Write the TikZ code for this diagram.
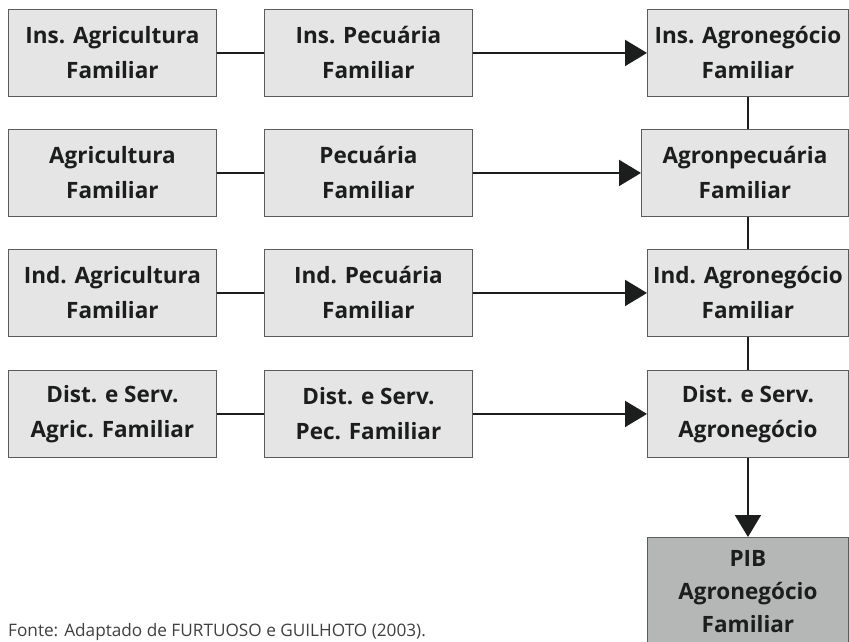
\documentclass[tikz,border=0pt]{standalone}
\usepackage{fontspec}
\setmainfont{Open Sans}
\usepackage{xcolor}
\usetikzlibrary{arrows.meta,positioning}
\definecolor{boxfill}{HTML}{E4E5E4}
\definecolor{pibfill}{HTML}{B5B7B6}
\definecolor{boxline}{HTML}{5A5C5B}
\definecolor{ink}{HTML}{1C1E1D}

\begin{document}
\begin{tikzpicture}[
  node distance=32pt and 47pt,
  box/.style={draw=boxline, line width=0.9pt, fill=boxfill, anchor=north west,
    align=center, minimum width=208pt, minimum height=87pt, inner sep=2pt,
    text=ink, font=\fontsize{22.5}{35}\selectfont\bfseries},
  link/.style={line width=2pt, draw=ink},
  arr/.style={link, -{Triangle[length=22pt, width=26pt]}}
]
\useasboundingbox (0,0) rectangle (849pt,-642pt);
% row 1
\node[box] (insagr) at (8pt,-9pt) {Ins. Agricultura\\Familiar};
\node[box] (inspec) at (264pt,-9pt) {Ins. Pecuária\\Familiar};
\node[box, minimum width=201pt] (insneg) at (647pt,-9pt) {Ins. Agronegócio\\Familiar};
% row 2
\node[box] (agr) at (8pt,-129pt) {Agricultura\\Familiar};
\node[box] (pec) at (264pt,-129pt) {Pecuária\\Familiar};
\node[box, minimum width=207pt] (agropec) at (641pt,-129pt) {Agronpecuária\\Familiar};
% row 3
\node[box] (indagr) at (8pt,-249pt) {Ind. Agricultura\\Familiar};
\node[box] (indpec) at (264pt,-249pt) {Ind. Pecuária\\Familiar};
\node[box, minimum width=201pt] (indneg) at (647pt,-249pt) {Ind. Agronegócio\\Familiar};
% row 4
\node[box] (distagr) at (8pt,-370pt) {Dist. e Serv.\\Agric. Familiar};
\node[box] (distpec) at (264pt,-370pt) {Dist. e Serv.\\Pec. Familiar};
\node[box, minimum width=201pt] (distneg) at (647pt,-370pt) {Dist. e Serv.\\Agronegócio};
% result
\node[box, fill=pibfill, minimum width=201pt, minimum height=108pt, font=\fontsize{22.5}{33}\selectfont\bfseries] (pib) at (647pt,-537pt) {PIB\\Agronegócio\\Familiar};
% source
\node[anchor=base west, inner sep=0pt, text=ink!85, font=\fontsize{17.2}{20}\selectfont] (fonte) at (8pt,-636pt) {Fonte: Adaptado de FURTUOSO e GUILHOTO (2003).};

\draw[link] (insagr) -- (inspec);
\draw[arr] (inspec) -- (insneg);
\draw[link] (agr) -- (pec);
\draw[arr] (pec) -- (agropec);
\draw[link] (indagr) -- (indpec);
\draw[arr] (indpec) -- (indneg);
\draw[link] (distagr) -- (distpec);
\draw[arr] (distpec) -- (distneg);
\draw[link] (insneg.south) -- (insneg.south |- agropec.north);
\draw[link] (insneg.south |- agropec.south) -- (indneg.north);
\draw[link] (indneg) -- (distneg);
\draw[arr] (distneg) -- (pib);
\end{tikzpicture}
\end{document}
